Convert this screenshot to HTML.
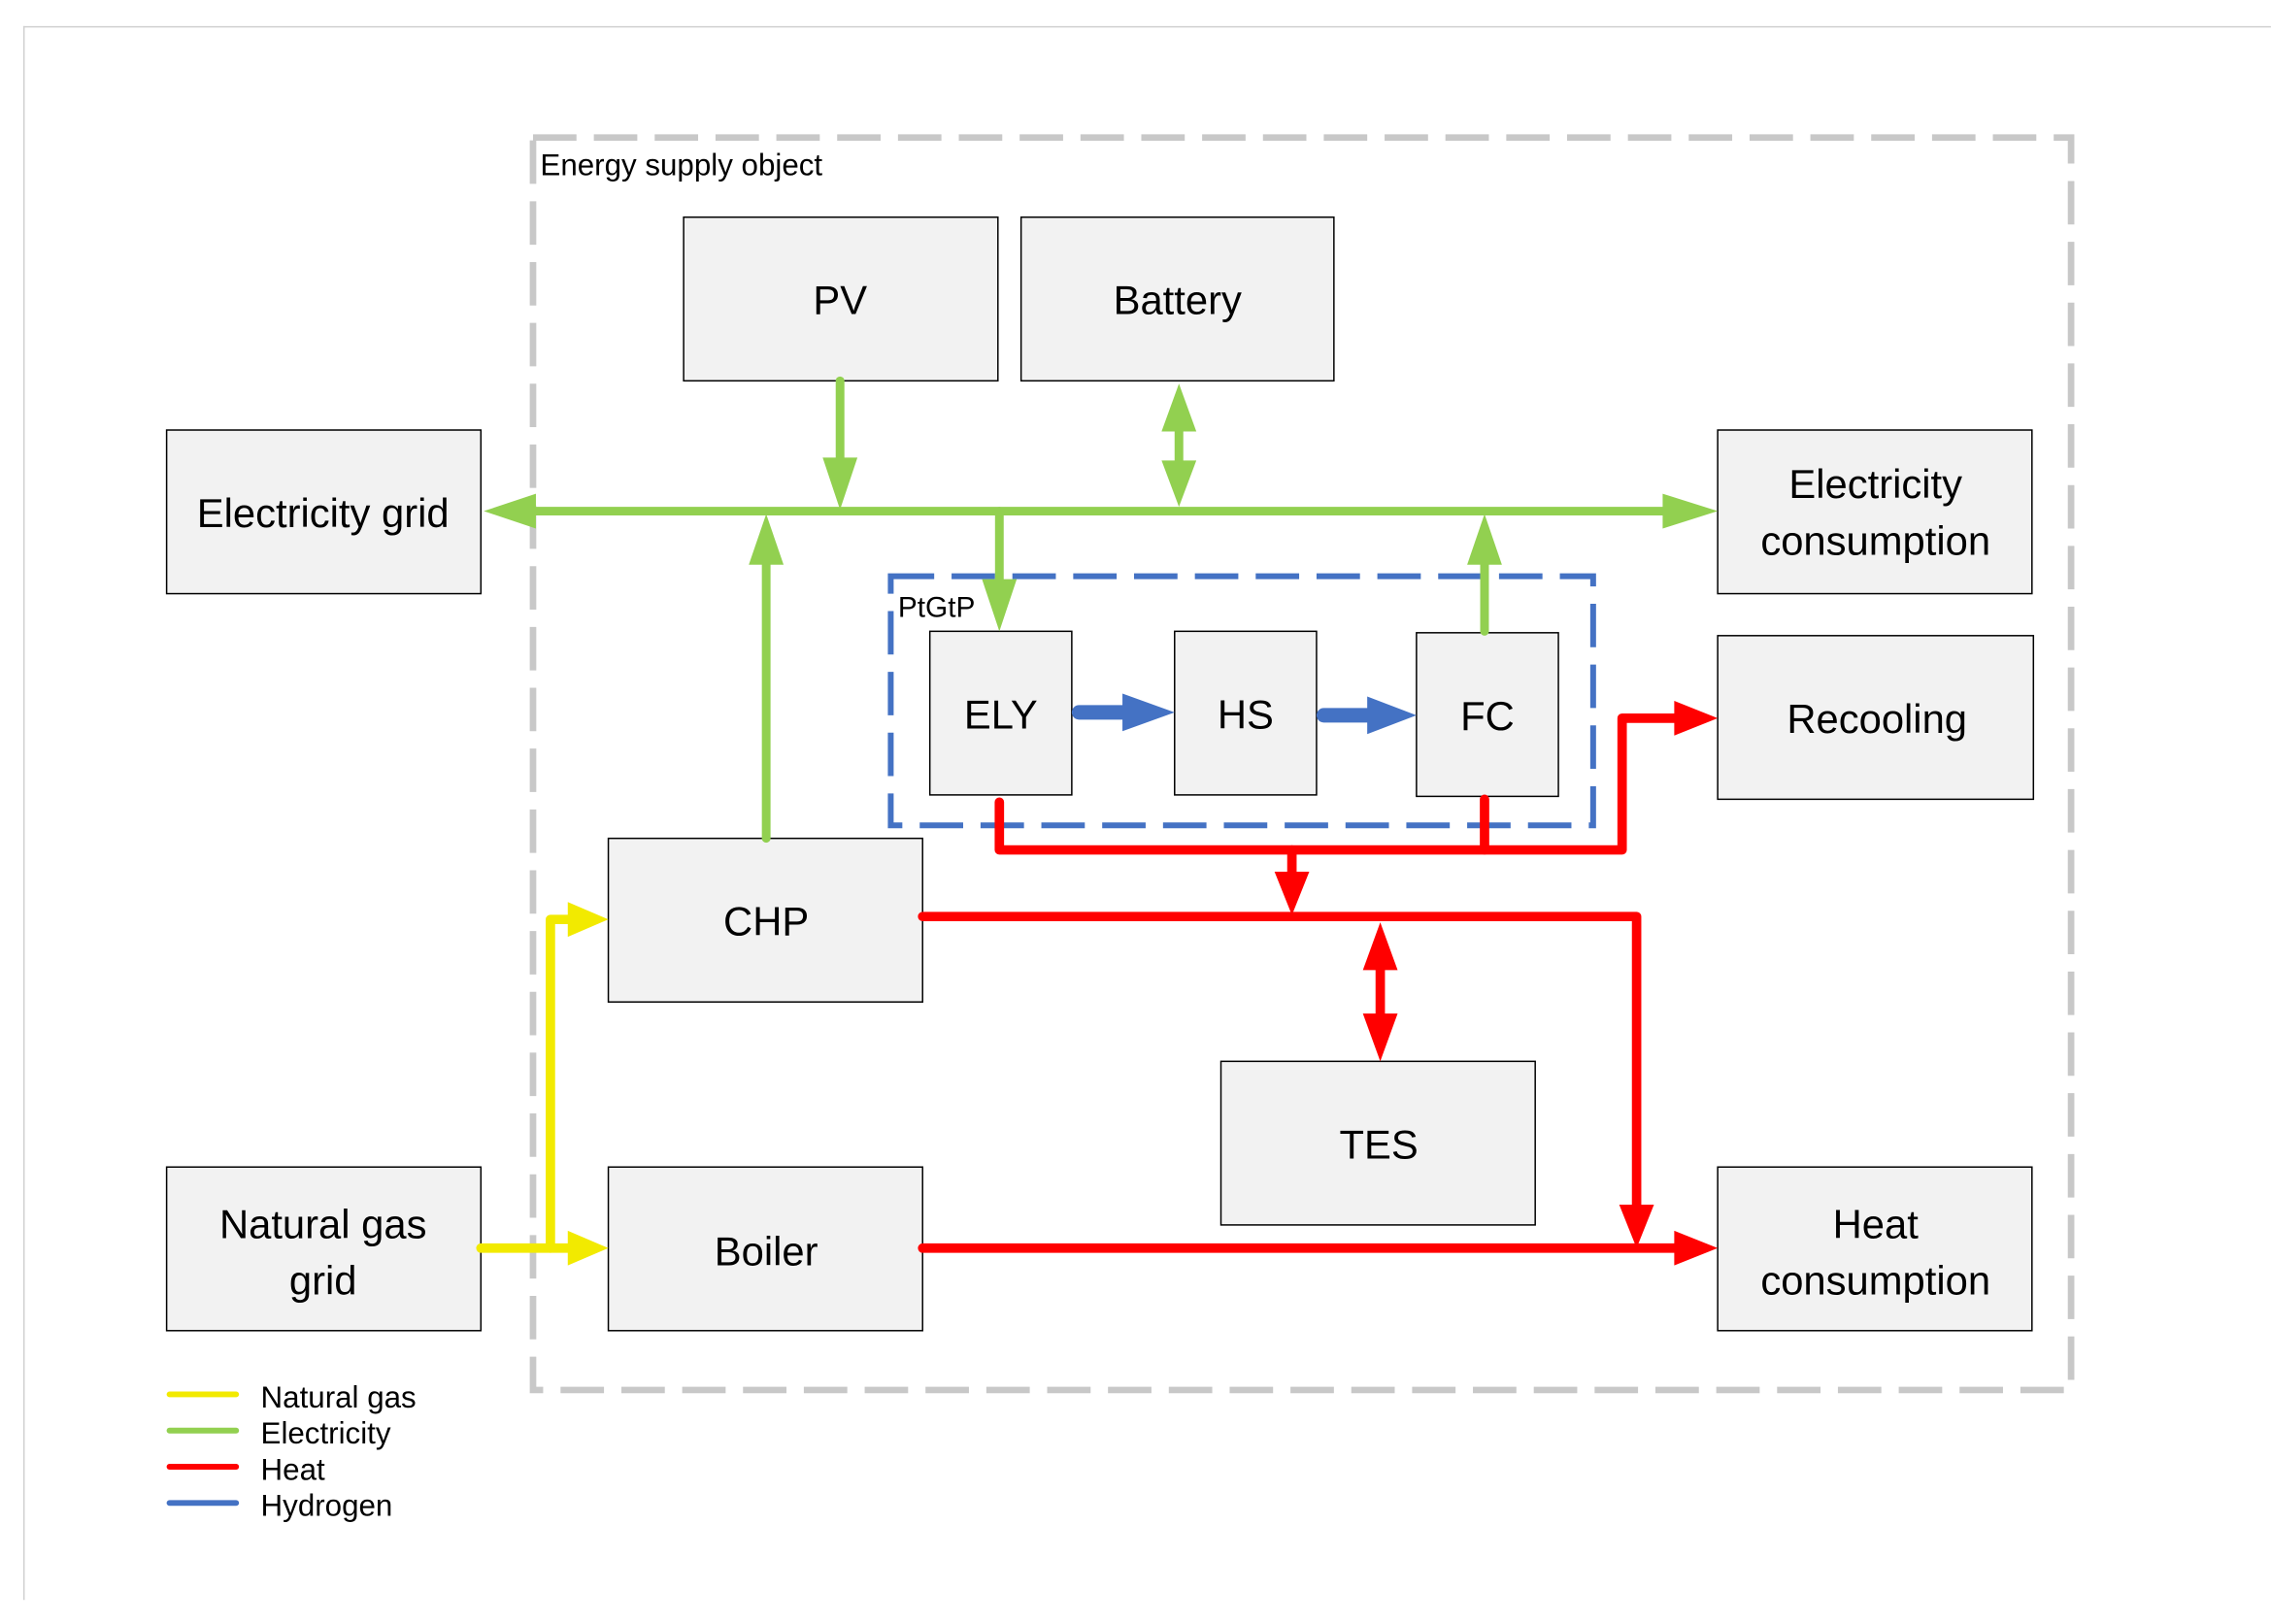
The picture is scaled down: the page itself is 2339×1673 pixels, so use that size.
<!DOCTYPE html>
<html><head><meta charset="utf-8"><style>html,body{margin:0;padding:0;background:#fff}svg{display:block}</style></head>
<body>
<svg width="2339" height="1673" viewBox="0 0 1568 1121.6" xmlns="http://www.w3.org/2000/svg" font-family="Liberation Sans, sans-serif">
<rect width="1568" height="1122" fill="#fff"/>
<line x1="16.5" y1="18" x2="16.5" y2="1105" stroke="#d0d0d0" stroke-width="1"/>
<line x1="16" y1="18.5" x2="1568" y2="18.5" stroke="#d0d0d0" stroke-width="1"/>
<rect x="368" y="95" width="1062" height="865" fill="none" stroke="#c8c8c8" stroke-width="4.5" stroke-dasharray="30,12"/>
<text x="373" y="121" font-size="21">Energy supply object</text>
<rect x="615" y="398" width="485" height="172" fill="none" stroke="#4472c4" stroke-width="4" stroke-dasharray="30,12"/>
<text x="620" y="426" font-size="20">PtGtP</text>
<g fill="#f2f2f2" stroke="#000" stroke-width="1">
<rect x="472" y="150" width="217" height="113"/>
<rect x="705" y="150" width="216" height="113"/>
<rect x="115" y="297" width="217" height="113"/>
<rect x="1186" y="297" width="217" height="113"/>
<rect x="642" y="436" width="98" height="113"/>
<rect x="811" y="436" width="98" height="113"/>
<rect x="978" y="437" width="98" height="113"/>
<rect x="1186" y="439" width="218" height="113"/>
<rect x="420" y="579" width="217" height="113"/>
<rect x="843" y="733" width="217" height="113"/>
<rect x="115" y="806" width="217" height="113"/>
<rect x="420" y="806" width="217" height="113"/>
<rect x="1186" y="806" width="217" height="113"/>
</g>
<g font-size="28" text-anchor="middle" fill="#000">
<text x="580" y="217">PV</text>
<text x="813" y="217">Battery</text>
<text x="223" y="364">Electricity grid</text>
<text x="1295" y="344">Electricity</text>
<text x="1295" y="383">consumption</text>
<text x="691" y="503">ELY</text>
<text x="860" y="503">HS</text>
<text x="1027" y="504">FC</text>
<text x="1296" y="506">Recooling</text>
<text x="529" y="646">CHP</text>
<text x="952" y="800">TES</text>
<text x="223" y="855">Natural gas</text>
<text x="223" y="894">grid</text>
<text x="529" y="874">Boiler</text>
<text x="1295" y="855">Heat</text>
<text x="1295" y="894">consumption</text>
</g>
<g stroke="#92d050" stroke-width="6" stroke-linecap="round" fill="none">
<line x1="362" y1="353" x2="1152" y2="353"/>
<line x1="580" y1="263" x2="580" y2="320"/>
<line x1="814" y1="290" x2="814" y2="325"/>
<line x1="529" y1="579" x2="529" y2="390"/>
<line x1="690" y1="353" x2="690" y2="402"/>
<line x1="1025" y1="436" x2="1025" y2="390"/>
</g>
<g fill="#92d050">
<polygon points="334,353 370,341 370,365"/>
<polygon points="1186,353 1148,341 1148,365"/>
<polygon points="580,352 568,316 592,316"/>
<polygon points="814,265 802,298 826,298"/>
<polygon points="814,350 802,318 826,318"/>
<polygon points="529,355 517,390 541,390"/>
<polygon points="690,436 678,400 702,400"/>
<polygon points="1025,355 1013,390 1037,390"/>
</g>
<g stroke="#4472c4" stroke-width="10" stroke-linecap="round">
<line x1="745" y1="492" x2="778" y2="492"/>
<line x1="914" y1="494" x2="945" y2="494"/>
</g>
<g fill="#4472c4">
<polygon points="811,492 775,479 775,505"/>
<polygon points="978,494 944,481 944,507"/>
</g>
<g stroke="#ff0000" stroke-width="6.5" stroke-linecap="round" stroke-linejoin="round" fill="none">
<polyline points="690,554 690,587 1120,587 1120,496 1160,496"/>
<line x1="1025" y1="552" x2="1025" y2="587"/>
<line x1="892" y1="587" x2="892" y2="605"/>
<polyline points="637,633 1130,633 1130,835"/>
<line x1="953" y1="665" x2="953" y2="705"/>
<line x1="637" y1="862" x2="1160" y2="862"/>
</g>
<g fill="#ff0000">
<polygon points="1186,496 1156,484 1156,508"/>
<polygon points="892,632 880,602 904,602"/>
<polygon points="1130,862 1118,832 1142,832"/>
<polygon points="953,637 941,670 965,670"/>
<polygon points="953,733 941,700 965,700"/>
<polygon points="1186,862 1156,850 1156,874"/>
</g>
<g stroke="#f2ea00" stroke-width="6.5" stroke-linecap="round" stroke-linejoin="round" fill="none">
<polyline points="332,862 395,862"/>
<polyline points="380,862 380,635 395,635"/>
</g>
<g fill="#f2ea00">
<polygon points="420,635 392,623 392,647"/>
<polygon points="420,862 392,850 392,874"/>
</g>
<g stroke-width="4" stroke-linecap="round">
<line x1="117" y1="963" x2="163" y2="963" stroke="#f2ea00"/>
<line x1="117" y1="988" x2="163" y2="988" stroke="#92d050"/>
<line x1="117" y1="1013" x2="163" y2="1013" stroke="#ff0000"/>
<line x1="117" y1="1038" x2="163" y2="1038" stroke="#4472c4"/>
</g>
<g font-size="21">
<text x="180" y="972">Natural gas</text>
<text x="180" y="997">Electricity</text>
<text x="180" y="1022">Heat</text>
<text x="180" y="1047">Hydrogen</text>
</g>
</svg>
</body></html>
